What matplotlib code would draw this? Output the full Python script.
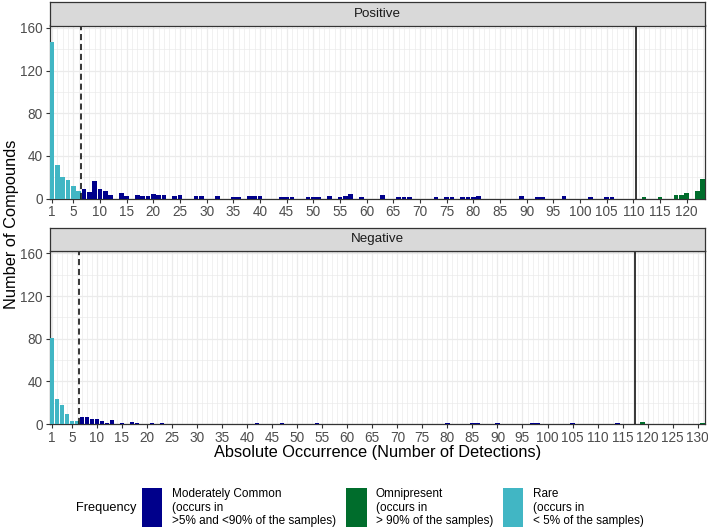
import matplotlib
matplotlib.use("Agg")
import matplotlib.pyplot as plt
from matplotlib.patches import Rectangle
import numpy as np

plt.rcParams['font.family'] = ['Liberation Sans', 'DejaVu Sans']

# ---------------- data ----------------
categories = ["Moderately Common\n(occurs in\n>5% and <90% of the samples)",
              "Omnipresent\n(occurs in\n> 90% of the samples)",
              "Rare\n(occurs in\n< 5% of the samples)"]
colors = ["#00008B", "#006D2C", "#41B6C4"]

# Positive mode
pos_rare_x = [1, 2, 3, 4, 5, 6]
pos_rare_n = [147, 31, 20, 17, 12, 7]
pos_mod_x = [7, 8, 9, 10, 11, 12, 14, 15, 17, 18, 19, 20, 21, 22, 24, 25, 28, 29, 32, 35, 36,
             38, 39, 40, 44, 45, 46, 49, 50, 51, 53, 55, 56, 57, 59, 63, 66, 67, 68, 73, 75,
             76, 78, 79, 80, 81, 89, 92, 93, 97, 102, 105, 106]
pos_mod_n = [9, 6, 16, 9, 7, 3, 5, 2, 3, 2, 2, 4, 3, 3, 2, 3, 2, 2, 2, 1, 1,
             2, 2, 2, 1, 1, 1, 1, 1, 1, 2, 1, 2, 4, 1, 3, 1, 1, 1, 1, 1,
             1, 1, 1, 1, 2, 2, 1, 1, 2, 1, 1, 1]
pos_omni_x = [112, 115, 118, 119, 120, 122, 123]
pos_omni_n = [1, 1, 3, 3, 5, 7, 18]

# Negative mode
neg_rare_x = [1, 2, 3, 4, 5, 6]
neg_rare_n = [81, 23, 18, 9, 3, 3]
neg_mod_x = [7, 8, 9, 10, 11, 12, 13, 15, 17, 18, 21, 23, 42, 47, 54, 80, 85, 86, 90, 97, 98,
             105, 114]
neg_mod_n = [7, 7, 5, 5, 3, 1, 4, 1, 2, 1, 1, 1, 1, 1, 1, 1, 1, 1, 1, 1, 1,
             1, 1]
neg_omni_x = [119, 131]
neg_omni_n = [2, 1]

panel_names = ["Positive", "Negative"]
panel_xmax = [123, 131]
rare_cut = [6.5, 6.5]
omni_cut = [110.5, 117.5]
pos_ticks = [1] + list(range(5, 121, 5))
neg_ticks = [1] + list(range(5, 131, 5))
y_ticks = [0, 40, 80, 120, 160]

series = [
    [(pos_mod_x, pos_mod_n), (pos_omni_x, pos_omni_n), (pos_rare_x, pos_rare_n)],
    [(neg_mod_x, neg_mod_n), (neg_omni_x, neg_omni_n), (neg_rare_x, neg_rare_n)],
]
xticks_list = [pos_ticks, neg_ticks]

# ---------------- layout ----------------
W, H = 708, 530
fig = plt.figure(figsize=(W / 100, H / 100), dpi=100)

def fx(px):
    return px / W

def fy(py):
    return 1 - py / H

L, R = 49.6, 705.0
strip_h = 23.5
panel_tops = [25.5, 251.0]
panel_h = 173.0
border = "#333333"
grid_c = "#EBEBEB"

for i in range(2):
    top = panel_tops[i]
    bot = top + panel_h
    ax = fig.add_axes([fx(L), fy(bot), fx(R) - fx(L), panel_h / H])
    ax.set_facecolor("white")
    for (xs, ns), c in zip(series[i], colors):
        ax.bar(xs, ns, width=0.9, color=c, edgecolor="none", zorder=3)
    ax.axvline(rare_cut[i], color="black", linestyle=(0, (4, 2.5)), linewidth=1.1, zorder=4)
    ax.axvline(omni_cut[i], color="black", linestyle="-", linewidth=1.1, zorder=4)
    ax.set_xlim(0.55, panel_xmax[i] + 0.45)
    ax.set_ylim(0, 162.3)
    ax.set_xticks(xticks_list[i])
    ax.set_xticks(np.arange(1, panel_xmax[i] + 1), minor=True)
    ax.set_yticks(y_ticks)
    ax.set_yticks([20, 60, 100, 140], minor=True)
    ax.grid(which="major", color=grid_c, linewidth=0.9, zorder=0)
    ax.grid(which="minor", color=grid_c, linewidth=0.5, zorder=0)
    ax.set_axisbelow(True)
    ax.tick_params(which="major", length=3.0, width=0.8, color=border,
                   labelsize=9.8, labelcolor="#4D4D4D", pad=2)
    ax.tick_params(which="minor", length=0)
    for s in ax.spines.values():
        s.set_color(border)
        s.set_linewidth(0.9)
    ax.spines["top"].set_zorder(5)
    # strip
    sax = fig.add_axes([fx(L), fy(top), fx(R) - fx(L), strip_h / H])
    sax.set_facecolor("#D9D9D9")
    sax.set_xticks([])
    sax.set_yticks([])
    for s in sax.spines.values():
        s.set_color(border)
        s.set_linewidth(0.9)
    sax.text(0.5, 0.5, panel_names[i], ha="center", va="center",
             fontsize=9.6, color="#1A1A1A", transform=sax.transAxes)

# axis titles
fig.text(fx((L + R) / 2), fy(452), "Absolute Occurrence (Number of Detections)",
         ha="center", va="center", fontsize=11.8, color="black")
fig.text(fx(12), fy((panel_tops[0] + panel_tops[1] + panel_h) / 2), "Number of Compounds",
         ha="center", va="center", rotation=90, fontsize=11.8, color="black")

# legend
fig.text(fx(76), fy(507.5), "Frequency", ha="left", va="center", fontsize=9.2, color="black")
key_x = [141.7, 346.0, 502.7]
for kx, c, lab in zip(key_x, colors, categories):
    fig.patches.append(Rectangle((fx(kx), fy(527)), fx(20.6), 39 / H,
                                 transform=fig.transFigure, facecolor=c, edgecolor="none"))
    fig.text(fx(kx + 30), fy(507.5), lab, ha="left", va="center", fontsize=8.5,
             color="black", linespacing=1.2)

fig.savefig("out.png", dpi=100)
